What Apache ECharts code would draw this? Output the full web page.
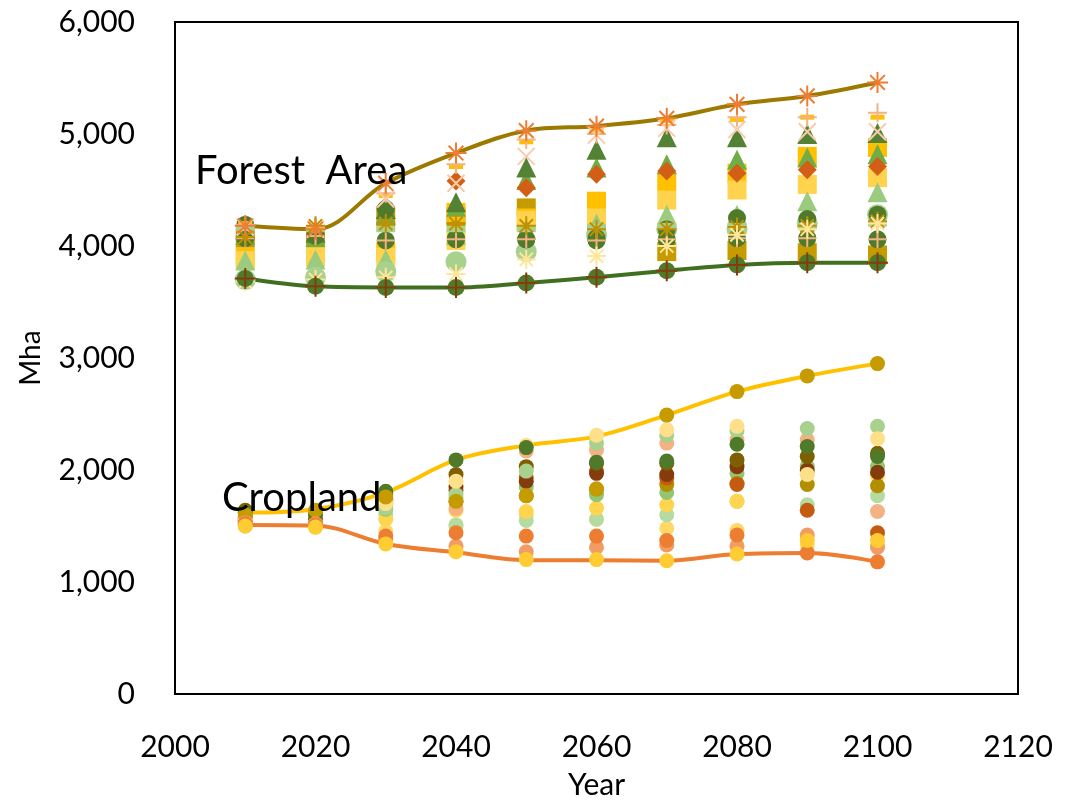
<!DOCTYPE html>
<html>
<head>
<meta charset="utf-8">
<script src="https://cdn.jsdelivr.net/npm/echarts@6/dist/echarts.min.js"></script>
<style>
html,body{margin:0;padding:0;background:#fff;}
#chart{width:1068px;height:805px;}
</style>
</head>
<body>
<div id="chart"></div>
<script>
// ---------- DATA ----------
const years = [2010, 2020, 2030, 2040, 2050, 2060, 2070, 2080, 2090, 2100];
const xTicks = [2000, 2020, 2040, 2060, 2080, 2100, 2120];
const yTicks = [0, 1000, 2000, 3000, 4000, 5000, 6000];

// Forest area envelopes (Mha)
const forestUpper = [4180, 4150, 4560, 4830, 5030, 5070, 5140, 5265, 5340, 5460];
const forestLower = [3710, 3640, 3630, 3630, 3670, 3720, 3780, 3830, 3850, 3850];

// Forest area scenarios (Mha)
const fSqGold   = [4070, 4090, 4260, 4260, 4340, 4150, 3950, 3960, 3940, 3920];
const fSqYellow = [3900, 3920, 3950, 4300, 4250, 4400, 4570, 4650, 4800, 4880];
const fSqLight  = [3870, 3900, 3900, 4050, 4230, 4250, 4410, 4500, 4550, 4610];
const fTriLight = [3870, 3880, 3880, 4100, 4150, 4200, 4280, 4280, 4400, 4480];
const fTriGreen = [4100, 4080, 4280, 4350, 4590, 4700, 4730, 4770, 4790, 4820];
const fTriDark  = [4150, 4120, 4330, 4390, 4700, 4860, 4970, 4970, 5000, 5010];
const fDiamond  = [4150, 4130, 4350, 4580, 4520, 4640, 4670, 4650, 4680, 4710];
const fCircLight= [3700, 3720, 3770, 3860, 3950, 4100, 4150, 4150, 4200, 4280];
const fCircDark = [4190, 4100, 4330, 4070, 4060, 4070, 4150, 4250, 4240, 4280];
const fCircPlus = [4070, 4090, 4050, 4060, 4060, 4050, 4060, 4070, 4070, 4060];
const fBar      = [4160, 4150, 4150, 4150, 4150, 4170, 4180, 4180, 4180, 4200];
const fDash     = [4200, 4160, 4450, 4710, 4930, 5030, 5120, 5130, 5150, 5150];
const fPlus     = [4190, 4170, 4470, 4730, 4950, 5000, 5080, 5150, 5150, 5190];
const fX        = [4170, 4150, 4420, 4560, 4800, 4990, 5050, 5040, 5020, 5020];
const fAstGold  = [4080, 4180, 4200, 4200, 4180, 4150, 4150, 4170, 4180, 4220];
const fAstPale  = [3680, 3700, 3720, 3750, 3880, 3910, 4000, 4100, 4150, 4200];

// Cropland envelopes (Mha)
const cropUpper = [1620, 1650, 1800, 2090, 2220, 2300, 2490, 2700, 2840, 2950];
const cropLower = [1510, 1505, 1340, 1265, 1195, 1195, 1190, 1250, 1260, 1180];

// Cropland scenarios (Mha)
const c1  = [1600, 1640, 1760, 1720, 1770, 1830, 2490, 2700, 2840, 2950];
const c2  = [1620, 1600, 1810, 2090, 2200, 2070, 2080, 2230, 2210, 2120];
const c3  = [1560, 1600, 1700, 1900, 2220, 2310, 2360, 2390, 1960, 2280];
const c4  = [1510, 1530, 1660, 1780, 1990, 2240, 2310, 2350, 2370, 2390];
const c5  = [1560, 1620, 1700, 1660, 2170, 2180, 2240, 2270, 2270, 1630];
const c6  = [1640, 1610, 1780, 1960, 2030, 2060, 2060, 2090, 2120, 2150];
const c7  = [1570, 1560, 1740, 1850, 1900, 1970, 1960, 2030, 2000, 1980];
const c8  = [1580, 1570, 1720, 1820, 1930, 1990, 1930, 1870, 1640, 1440];
const c9  = [1550, 1560, 1690, 1720, 1770, 1830, 1870, 1880, 1870, 1860];
const c10 = [1540, 1550, 1650, 1750, 1850, 1780, 1800, 1970, 2030, 2030];
const c11 = [1530, 1500, 1560, 1640, 1630, 1660, 1690, 1720, 1960, 1950];
const c12 = [1500, 1520, 1600, 1510, 1550, 1560, 1600, 1720, 1690, 1770];
const c13 = [1520, 1510, 1410, 1440, 1410, 1410, 1370, 1420, 1260, 1180];
const c14 = [1530, 1520, 1380, 1320, 1270, 1310, 1330, 1320, 1420, 1310];
const c15 = [1500, 1490, 1340, 1270, 1200, 1200, 1190, 1250, 1370, 1370];
const c16 = [1500, 1490, 1450, 1500, 1600, 1560, 1480, 1460, 1330, 1330];

// ---------- BUILD ----------
const pair = arr => years.map((y, i) => [y, arr[i]]);
const PLUS = 'path://M0,5L10,5M5,0L5,10';
const XMARK = 'path://M0,0L10,10M10,0L0,10';
const AST = 'path://M0,5L10,5M5,0L5,10M1.5,1.5L8.5,8.5M8.5,1.5L1.5,8.5';

function scat(data, symbol, color, size, stroke) {
  return {
    type: 'scatter', data: pair(data), symbol: symbol, symbolSize: size,
    itemStyle: stroke ? {color: color, borderColor: color, borderWidth: 2, opacity: 1} : {color: color, opacity: 1},
    emphasis: {disabled: true}, silent: true
  };
}
function envLine(data, color, z) {
  return {
    type: 'line', data: pair(data), smooth: 0.35, showSymbol: false, symbol: 'none',
    lineStyle: {color: color, width: 4}, z: z, silent: true
  };
}

const series = [
  // cropland
  envLine(cropUpper, '#FFC000', 2),
  envLine(cropLower, '#ED7D31', 2),
  scat(c16, 'circle', '#FFD966', 15),
  scat(c12, 'circle', '#B5DBA0', 15),
  scat(c11, 'circle', '#FFD54F', 15),
  scat(c10, 'circle', '#93C572', 15),
  scat(c9,  'circle', '#B38F00', 15),
  scat(c8,  'circle', '#C55A11', 15),
  scat(c7,  'circle', '#843C0C', 15),
  scat(c6,  'circle', '#7F6000', 15),
  scat(c5,  'circle', '#F4B183', 15),
  scat(c4,  'circle', '#A9D18E', 15),
  scat(c3,  'circle', '#FFE08A', 15),
  scat(c2,  'circle', '#4E7A2A', 15),
  scat(c1,  'circle', '#C59B00', 15),
  scat(c14, 'circle', '#F19C65', 15),
  scat(c13, 'circle', '#ED7D31', 15),
  scat(c15, 'circle', '#FFCC33', 15),
  // forest
  envLine(forestUpper, '#9C7A00', 2),
  envLine(forestLower, '#40701F', 2),
  scat(fSqGold,   'rect', '#C59B00', 19),
  scat(fSqYellow, 'rect', '#FFC000', 19),
  scat(fSqLight,  'rect', '#FFD34D', 19),
  scat(fTriLight, 'triangle', '#9BCB7E', 20),
  scat(fTriGreen, 'triangle', '#70AD47', 20),
  scat(fTriDark,  'triangle', '#548235', 20),
  scat(fDiamond,  'diamond', '#D35F17', 19),
  scat(fCircLight,'circle', '#A9D18E', 21),
  scat(fCircDark, 'circle', '#4E7A2A', 18),
  scat(fCircPlus, 'circle', '#4E7A2A', 18),
  scat(fBar,      'rect', '#A9D18E', [19, 6]),
  scat(fCircPlus, PLUS, '#F4B183', 18, true),
  scat(fDash,     'rect', '#FFC000', [14, 5]),
  scat(fPlus,     PLUS, '#F4B183', 19, true),
  scat(fX,        XMARK, '#F8CBAD', 17, true),
  scat(fAstGold,  AST, '#BF9000', 19, true),
  scat(fAstPale,  AST, '#FFE699', 19, true),
  scat(forestLower, 'circle', '#4E7A2A', 17),
  scat(forestLower, PLUS, '#843C0C', 21, true),
  scat(forestUpper, AST, '#ED7D31', 21, true)
];

const chart = echarts.init(document.getElementById('chart'), null, {renderer: 'canvas'});
const FONT = 'Lato, "Liberation Sans", sans-serif';
chart.setOption({
  animation: false,
  backgroundColor: '#ffffff',
  grid: {left: 175, right: 50, top: 22, bottom: 108, show: true, borderColor: '#000', borderWidth: 2, containLabel: false},
  xAxis: {
    type: 'value', min: xTicks[0], max: xTicks[xTicks.length - 1], interval: 20,
    name: 'Year', nameLocation: 'middle', nameGap: 76,
    nameTextStyle: {fontFamily: FONT, fontSize: 30, color: '#000'},
    axisLine: {show: true, lineStyle: {color: '#000', width: 2}},
    axisTick: {show: false}, splitLine: {show: false},
    axisLabel: {fontFamily: FONT, fontSize: 30, color: '#000', margin: 38, formatter: v => String(v)}
  },
  yAxis: {
    type: 'value', min: yTicks[0], max: yTicks[yTicks.length - 1], interval: 1000,
    name: 'Mha', nameLocation: 'middle', nameGap: 130, nameRotate: 90,
    nameTextStyle: {fontFamily: FONT, fontSize: 28, color: '#000'},
    axisLine: {show: true, lineStyle: {color: '#000', width: 2}},
    axisTick: {show: false}, splitLine: {show: false},
    axisLabel: {fontFamily: FONT, fontSize: 30, color: '#000', margin: 40, formatter: v => v.toLocaleString('en-US')}
  },
  graphic: [
    {type: 'text', left: 195, top: 151, z: 100, style: {text: 'Forest  Area', font: '40px ' + FONT, fill: '#000'}},
    {type: 'text', left: 222, top: 478, z: 100, style: {text: 'Cropland', font: '40px ' + FONT, fill: '#000'}}
  ],
  series: series
});
</script>
</body>
</html>
